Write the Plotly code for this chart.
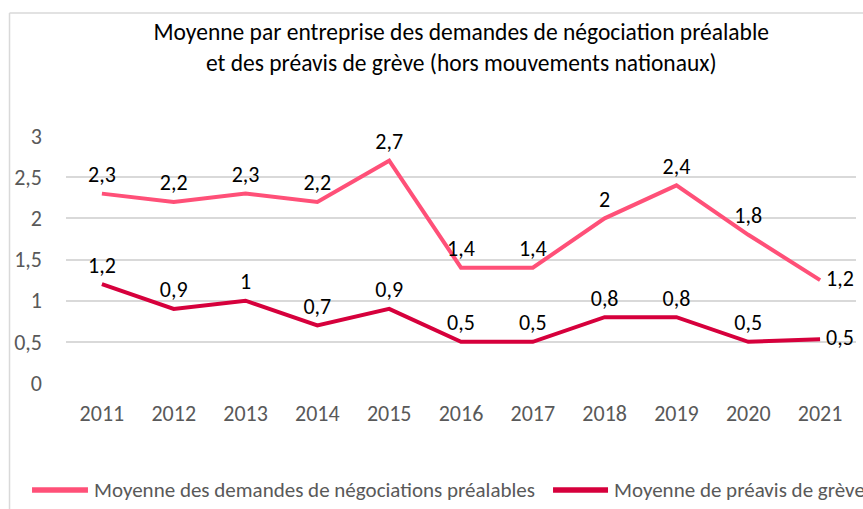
import plotly.graph_objects as go

years = ["2011", "2012", "2013", "2014", "2015", "2016", "2017", "2018", "2019", "2020", "2021"]
demandes = [2.3, 2.2, 2.3, 2.2, 2.7, 1.4, 1.4, 2.0, 2.4, 1.8, 1.25]
demandes_labels = ["2,3", "2,2", "2,3", "2,2", "2,7", "1,4", "1,4", "2", "2,4", "1,8", "1,2"]
preavis = [1.2, 0.9, 1.0, 0.7, 0.9, 0.5, 0.5, 0.8, 0.8, 0.5, 0.53]
preavis_labels = ["1,2", "0,9", "1", "0,7", "0,9", "0,5", "0,5", "0,8", "0,8", "0,5", "0,5"]
series_names = ["Moyenne des demandes de négociations préalables", "Moyenne de préavis de grève"]
yticks = [0, 0.5, 1, 1.5, 2, 2.5, 3]
ytick_labels = ["0", "0,5", "1", "1,5", "2", "2,5", "3"]

FONT = "Carlito, Calibri, Lato, sans-serif"
PINK = "#FF5078"
DARK = "#D6003C"
colors = [PINK, DARK]

pos = ["top center"] * (len(years) - 1) + ["middle right"]

fig = go.Figure()
for vals, labels, name, col in [(demandes, demandes_labels, series_names[0], PINK),
                                (preavis, preavis_labels, series_names[1], DARK)]:
    fig.add_trace(go.Scatter(
        x=years, y=vals, mode="lines+markers+text", name=name,
        line=dict(color=col, width=4), marker=dict(size=8, opacity=0, color=col),
        text=labels, textposition=pos,
        textfont=dict(family=FONT, size=22, color="#000000"), cliponaxis=False,
        showlegend=False,
    ))

fig.update_layout(
    width=863, height=509,
    margin=dict(l=66, r=7, t=136, b=126, autoexpand=False),
    paper_bgcolor="white", plot_bgcolor="white",
    font=dict(family=FONT, color="#595959"),
    title=dict(
        text="Moyenne par entreprise des demandes de négociation préalable<br>et des préavis de grève (hors mouvements nationaux)",
        x=0.5345, xanchor="center", y=0.921, yanchor="middle",
        font=dict(family=FONT, size=23.5, color="#000000"),
    ),
    xaxis=dict(
        type="category", showgrid=False, showline=False, zeroline=False,
        ticks="", tickfont=dict(family=FONT, size=22, color="#595959"),
        range=[-0.5, len(years) - 0.5], fixedrange=True, automargin=False,
        ticklabelstandoff=15,
    ),
    yaxis=dict(
        range=[0, 3], tickvals=yticks, ticktext=ytick_labels,
        showgrid=True, gridcolor="#D9D9D9", gridwidth=1.5, zeroline=False,
        showline=False, ticks="", ticklabelstandoff=23, automargin=False,
        tickfont=dict(family=FONT, size=22, color="#595959"),
    ),
    showlegend=False,
)

# chart frame (partially visible)
fig.add_shape(type="line", xref="paper", yref="paper", x0=-0.0715, x1=-0.0715, y0=1.498, y1=-0.6,
              line=dict(color="#D9D9D9", width=1.5))
fig.add_shape(type="line", xref="paper", yref="paper", x0=-0.0715, x1=1.05, y0=1.498, y1=1.498,
              line=dict(color="#D9D9D9", width=1.5))

# legend drawn manually (long Excel-style symbols)
leg_y = -0.4332
leg_items = [(-0.0430, 0.0278, 0.0329), (0.6165, 0.6861, 0.6911)]
for (lx0, lx1, tx), name, col in zip(leg_items, series_names, colors):
    fig.add_shape(type="line", xref="paper", yref="paper", x0=lx0, x1=lx1, y0=leg_y, y1=leg_y,
                  line=dict(color=col, width=5.5))
    fig.add_annotation(xref="paper", yref="paper", x=tx, y=leg_y, xanchor="left", yanchor="middle",
                       text=name, showarrow=False,
                       font=dict(family=FONT, size=21, color="#595959"))

fig.write_html("out.html", config={"displayModeBar": False},
               post_script="document.body.style.margin='0px';")
